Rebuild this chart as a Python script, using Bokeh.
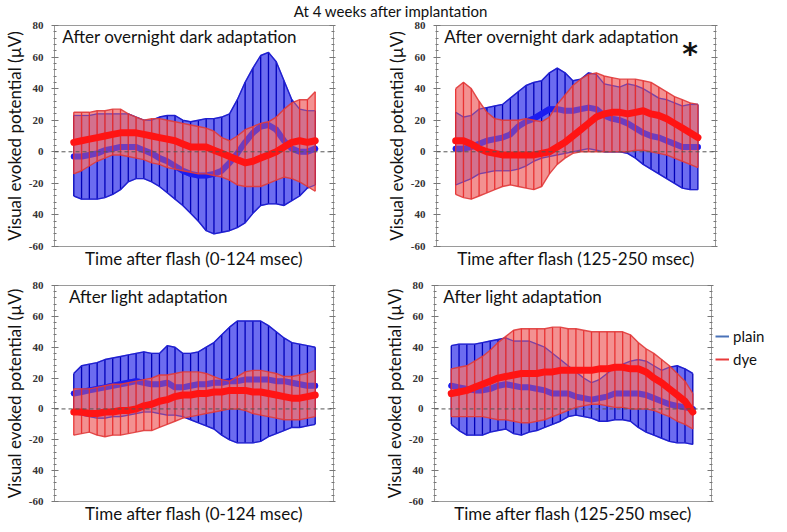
from bokeh.plotting import figure
from bokeh.models import Range1d, FixedTicker, LinearAxis, Span, Label, Legend, LegendItem, Div
from bokeh.layouts import column, row
from bokeh.embed import file_html
from bokeh.resources import INLINE

# ---------------- data ----------------
time_early = list(range(0, 125, 4))     # 0..124 msec
time_late = list(range(125, 250, 4))    # 125..249 msec

# top-left: dark adaptation, 0-124 msec
tl_plain_mean = [-3, -3, -2, -1, 1, 2, 3, 3, 3, 1, -1, -4, -6, -9, -12, -14, -15, -15, -14, -12, -7, -1, 6, 12, 16, 17, 14, 7, 2, 0, 0, 2]
tl_plain_upper = [23, 23, 23, 24, 24, 24, 24, 24, 22, 20, 20, 22, 23, 23, 20, 19, 20, 21, 21, 22, 24, 33, 44, 53, 61, 63, 57, 45, 33, 27, 26, 26]
tl_plain_lower = [-28, -30, -30, -30, -29, -27, -24, -19, -17, -17, -19, -22, -26, -30, -34, -39, -44, -50, -52, -51, -50, -48, -45, -39, -34, -33, -33, -34, -31, -28, -23, -21]
tl_dye_mean = [6, 7, 8, 9, 10, 11, 12, 12, 12, 11, 10, 9, 8, 7, 5, 3, 3, 3, 1, -1, -3, -5, -7, -6, -4, -2, 0, 3, 6, 7, 6, 7]
tl_dye_upper = [25, 25, 25, 26, 26, 27, 27, 24, 22, 20, 21, 21, 20, 19, 18, 17, 16, 15, 13, 9, 7, 10, 14, 16, 18, 19, 22, 27, 31, 33, 33, 38]
tl_dye_lower = [-14, -12, -9, -6, -4, -2, -2, -3, -4, -5, -7, -8, -10, -11, -12, -13, -14, -14, -15, -16, -18, -21, -22, -22, -22, -20, -18, -16, -17, -19, -22, -25]

# top-right: dark adaptation, 125-250 msec
tr_plain_mean = [2, 2, 3, 5, 7, 8, 9, 11, 16, 19, 21, 24, 27, 27, 26, 26, 27, 28, 27, 23, 21, 20, 18, 15, 12, 10, 9, 7, 5, 3, 3, 3]
tr_plain_upper = [25, 22, 23, 27, 28, 29, 30, 34, 38, 42, 44, 45, 50, 53, 50, 45, 46, 50, 49, 43, 42, 41, 43, 42, 40, 37, 34, 33, 31, 29, 30, 30]
tr_plain_lower = [-21, -19, -17, -14, -13, -12, -12, -12, -11, -9, -6, -4, -3, -2, -1, 0, 1, 2, 1, 0, 0, 0, -1, -4, -8, -11, -14, -17, -20, -23, -24, -24]
tr_dye_mean = [7, 7, 5, 2, 0, -1, -2, -2, -2, -2, -2, -1, 0, 3, 6, 10, 14, 18, 22, 24, 25, 25, 24, 25, 26, 24, 23, 21, 18, 15, 12, 9]
tr_dye_upper = [40, 44, 40, 32, 25, 21, 20, 20, 20, 21, 20, 19, 22, 30, 36, 42, 46, 49, 50, 48, 47, 46, 46, 46, 45, 44, 41, 38, 35, 33, 31, 30]
tr_dye_lower = [-27, -29, -30, -28, -26, -24, -22, -21, -22, -23, -24, -22, -14, -8, -4, -1, 0, 0, 0, 0, 0, 0, 0, 1, 1, 0, -1, -2, -4, -6, -8, -10]

# bottom-left: light adaptation, 0-124 msec
bl_plain_mean = [10, 11, 12, 13, 14, 15, 16, 17, 18, 17, 16, 16, 17, 14, 14, 15, 16, 16, 17, 17, 18, 18, 19, 19, 19, 19, 18, 18, 17, 16, 15, 15]
bl_plain_upper = [23, 28, 29, 30, 32, 33, 34, 35, 36, 37, 36, 36, 41, 40, 36, 36, 37, 40, 43, 48, 53, 57, 57, 57, 57, 54, 50, 46, 43, 42, 41, 40]
bl_plain_lower = [-3, -4, -5, -6, -6, -5, -5, -4, -3, -2, -2, -3, -4, -4, -5, -7, -9, -11, -13, -17, -20, -22, -22, -22, -21, -18, -16, -14, -12, -12, -11, -10]
bl_dye_mean = [-2, -2, -3, -3, -2, -2, -1, -1, 0, 2, 3, 5, 6, 8, 9, 9, 10, 10, 11, 11, 12, 12, 12, 11, 11, 10, 9, 8, 7, 7, 8, 9]
bl_dye_upper = [13, 13, 13, 14, 15, 16, 16, 17, 18, 19, 20, 22, 22, 23, 24, 24, 24, 23, 21, 19, 18, 21, 24, 25, 25, 24, 23, 21, 21, 22, 23, 25]
bl_dye_lower = [-17, -16, -15, -17, -18, -17, -17, -16, -15, -14, -14, -12, -10, -8, -6, -5, -4, -3, -2, -1, 0, 0, -1, -3, -4, -5, -6, -7, -7, -7, -6, -5]

# bottom-right: light adaptation, 125-250 msec
br_plain_mean = [15, 14, 13, 12, 12, 13, 15, 16, 15, 14, 14, 13, 12, 10, 10, 10, 8, 7, 6, 7, 8, 10, 10, 10, 10, 9, 7, 5, 3, 2, 1, 0]
br_plain_upper = [41, 42, 42, 42, 43, 44, 45, 46, 44, 44, 44, 42, 40, 36, 32, 28, 24, 20, 17, 19, 23, 27, 29, 31, 32, 31, 28, 25, 27, 28, 26, 23]
br_plain_lower = [-10, -14, -17, -17, -17, -15, -14, -13, -16, -17, -15, -14, -12, -10, -8, -5, -4, -5, -6, -8, -8, -7, -7, -8, -12, -15, -17, -19, -21, -22, -22, -23]
br_dye_mean = [10, 11, 12, 14, 16, 18, 20, 21, 22, 23, 23, 23, 24, 24, 25, 25, 25, 25, 25, 26, 26, 27, 27, 26, 26, 24, 20, 17, 13, 9, 5, -2]
br_dye_upper = [26, 27, 28, 31, 34, 38, 43, 47, 51, 52, 52, 52, 52, 53, 53, 52, 52, 51, 50, 50, 50, 50, 50, 48, 43, 39, 36, 32, 28, 23, 18, 10]
br_dye_lower = [-5, -5, -5, -5, -5, -6, -7, -7, -8, -9, -9, -8, -7, -5, -3, -1, 1, 2, 3, 3, 2, 1, 1, 0, 0, 0, -1, -3, -5, -8, -10, -13]

title_text = "At 4 weeks after implantation"
y_label = "Visual evoked potential (\u00b5V)"
y_ticks = [-60, -40, -20, 0, 20, 40, 60, 80]
y_tick_labels = ["-60", "40", "-20", "0", "20", "40", "60", "80"]
y_minor = list(range(-60, 81, 4))
series_names = ["plain", "dye"]

FONT = "Lato"
TICK_FONT = "Liberation Sans Narrow"
BLUE_FILL = "#6c6cf0"
BLUE_LINE = "#0000b8"
BLUE_EDGE = "#2020d0"
BLUE_MEAN = "#1c1cf0"
RED_FILL = "#f07272"
RED_LINE = "#e82828"
RED_MEAN = "#ff1414"
GRAY = "#9a9a9a"


def make_panel(t, pm, pu, pl, dm, du, dl, xr, panel_text, text_x, xlabel,
               width, height, mb, star=None):
    p = figure(width=width, height=height, x_range=Range1d(*xr), y_range=Range1d(-60, 80),
               output_backend="svg", toolbar_location=None,
               min_border_left=mb[0], min_border_right=mb[1],
               min_border_top=mb[2], min_border_bottom=mb[3])
    p.grid.visible = False
    p.outline_line_color = GRAY
    p.background_fill_color = "white"
    p.border_fill_color = "white"

    ya = p.yaxis[0]
    ya.ticker = FixedTicker(ticks=y_ticks, minor_ticks=y_minor)
    ya.major_label_overrides = {k: v for k, v in zip(y_ticks, y_tick_labels)}
    ya.axis_line_color = GRAY
    ya.major_tick_line_color = "#777777"
    ya.minor_tick_line_color = "#777777"
    ya.major_tick_in = 4
    ya.major_tick_out = 3
    ya.minor_tick_in = 2
    ya.minor_tick_out = 1
    ya.major_label_standoff = 8
    ya.major_label_text_font = TICK_FONT
    ya.major_label_text_font_style = "bold"
    ya.major_label_text_font_size = "11px"
    ya.major_label_text_color = "#333333"
    ya.axis_label = y_label
    ya.axis_label_text_font = FONT
    ya.axis_label_text_font_style = "normal"
    ya.axis_label_text_font_size = "17px"
    ya.axis_label_text_color = "#111111"
    ya.axis_label_standoff = 1

    ra = LinearAxis(ticker=FixedTicker(ticks=y_ticks, minor_ticks=y_minor),
                    major_label_text_font_size="1px", major_label_text_color=None,
                    major_label_standoff=0,
                    axis_line_color=GRAY, major_tick_line_color="#777777",
                    minor_tick_line_color="#777777",
                    major_tick_in=4, major_tick_out=2, minor_tick_in=2, minor_tick_out=1)
    p.add_layout(ra, "right")

    xa = p.xaxis[0]
    xa.ticker = FixedTicker(ticks=[])
    xa.major_tick_out = 0
    xa.major_tick_in = 0
    xa.major_label_standoff = 0
    xa.axis_line_color = GRAY
    xa.axis_label = xlabel
    xa.axis_label_text_font = FONT
    xa.axis_label_text_font_style = "normal"
    xa.axis_label_text_font_size = "17px"
    xa.axis_label_text_color = "#111111"
    xa.axis_label_standoff = 1

    # plain (blue) band
    p.varea(x=t, y1=pl, y2=pu, fill_color=BLUE_FILL, fill_alpha=1.0)
    p.segment(x0=t, y0=pl, x1=t, y1=pu, line_color=BLUE_LINE, line_width=1.3)
    p.line(t, pu, line_color=BLUE_EDGE, line_width=1.4)
    p.line(t, pl, line_color=BLUE_EDGE, line_width=1.4)
    p.line(t, pm, line_color=BLUE_MEAN, line_width=6, line_cap="round", line_join="round")

    # zero line
    p.add_layout(Span(location=0, dimension="width", line_color="#555555",
                      line_dash="4 3", line_width=1))

    # dye (red) band on top, translucent
    p.varea(x=t, y1=dl, y2=du, fill_color=RED_FILL, fill_alpha=0.78)
    # plain series showing through the dye band
    p.line(t, pu, line_color=BLUE_EDGE, line_width=1.2, line_alpha=0.45)
    p.line(t, pl, line_color=BLUE_EDGE, line_width=1.2, line_alpha=0.45)
    p.line(t, pm, line_color=BLUE_MEAN, line_width=6, line_alpha=0.5,
           line_cap="round", line_join="round")
    p.segment(x0=t, y0=dl, x1=t, y1=du, line_color=RED_LINE, line_width=1.3, line_alpha=0.9)
    p.line(t, du, line_color="#e03a3a", line_width=1.4, line_alpha=0.9)
    p.line(t, dl, line_color="#e03a3a", line_width=1.4, line_alpha=0.9)
    p.line(t, dm, line_color=RED_MEAN, line_width=7, line_cap="round", line_join="round")

    p.add_layout(Label(x=text_x, y=79.5, text=panel_text, text_font=FONT,
                       text_font_size="17px", text_baseline="top", text_align="left",
                       text_color="#111111"))
    if star is not None:
        p.add_layout(Label(x=star[0], y=star[1], text="*", text_font="DejaVu Sans",
                           text_font_size="30px", text_font_style="bold",
                           text_align="center", text_baseline="alphabetic",
                           text_color="#111111"))
    return p


xr_early = (-9.9, 133.4)
xr_late = (115.2, 258.0)
xr_late_b = (116.4, 258.6)

tl = make_panel(time_early, tl_plain_mean, tl_plain_upper, tl_plain_lower,
                tl_dye_mean, tl_dye_upper, tl_dye_lower, xr_early,
                "After overnight dark adaptation", -5.9,
                "Time after flash (0-124 msec)", 382, 256, (44, 49, 5, 30))
tr = make_panel(time_late, tr_plain_mean, tr_plain_upper, tr_plain_lower,
                tr_dye_mean, tr_dye_upper, tr_dye_lower, xr_late,
                "After overnight dark adaptation", 119.2,
                "Time after flash (125-250 msec)", 389, 256, (47, 56, 5, 30),
                star=(245.0, 62.5))
bl = make_panel(time_early, bl_plain_mean, bl_plain_upper, bl_plain_lower,
                bl_dye_mean, bl_dye_upper, bl_dye_lower, xr_early,
                "After light adaptation", -2.5,
                "Time after flash (0-124 msec)", 380, 250, (44, 47, 9, 20))
br = make_panel(time_late, br_plain_mean, br_plain_upper, br_plain_lower,
                br_dye_mean, br_dye_upper, br_dye_lower, xr_late_b,
                "After light adaptation", 120.9,
                "Time after flash (125-250 msec)", 334, 250, (46, 3, 9, 20))

# legend panel beside the bottom-right chart (its lines lie outside the visible range)
lgf = figure(width=57, height=250, x_range=Range1d(0, 1), y_range=Range1d(0, 1),
             output_backend="svg", toolbar_location=None,
             min_border_left=0, min_border_right=0, min_border_top=0, min_border_bottom=0)
lgf.axis.visible = False
lgf.grid.visible = False
lgf.outline_line_color = None
r_plain = lgf.line(time_late, br_plain_mean, line_color="#4a72b8", line_width=2)
r_dye = lgf.line(time_late, br_dye_mean, line_color="#e83a3a", line_width=2)
lg = Legend(items=[LegendItem(label=series_names[0], renderers=[r_plain]),
                   LegendItem(label=series_names[1], renderers=[r_dye])],
            location=(1, 132), orientation="vertical",
            border_line_color=None, background_fill_alpha=0.0,
            label_text_font=FONT, label_text_font_size="15px",
            label_text_color="#111111", glyph_width=14, glyph_height=20,
            label_height=20, label_standoff=4, spacing=3, padding=0, margin=0)
lgf.add_layout(lg)

title = Div(text=title_text, width=771, height=10,
            styles={"font-family": FONT, "font-size": "15px", "text-align": "center",
                    "line-height": "12px", "color": "#111111", "overflow": "visible"})

layout = column(title, row(tl, tr), row(bl, br, lgf))
open("out.html", "w").write(file_html(layout, INLINE))
